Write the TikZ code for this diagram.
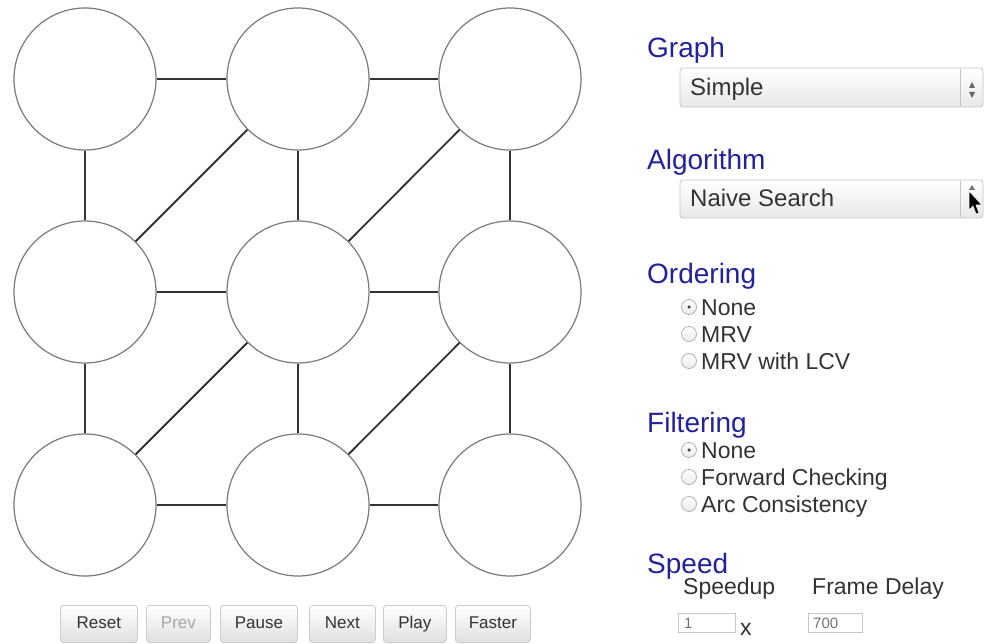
\documentclass[tikz,border=0pt]{standalone}
\usepackage{fontspec}
\setmainfont{Liberation Sans}
\definecolor{headblue}{HTML}{22229A}
\definecolor{bodytext}{HTML}{333333}
\definecolor{nodeline}{HTML}{7A7A7A}
\definecolor{edgeline}{HTML}{333333}
\definecolor{boxline}{HTML}{C4C4C4}
\begin{document}
\begin{tikzpicture}[x=1pt,y=-1pt,
  vertex/.style={circle,draw=nodeline,line width=1.2pt,fill=white,minimum size=142pt,inner sep=0pt},
  edge/.style={draw=edgeline,line width=2.6pt},
  heading/.style={anchor=base west,inner sep=0pt,text=headblue,font=\fontsize{28}{32}\selectfont},
  bodylabel/.style={anchor=base west,inner sep=0pt,text=bodytext,font=\fontsize{23}{27}\selectfont},
  selectbox/.style={draw=boxline,line width=0.8pt,rounded corners=3pt,top color=white,bottom color=black!9},
  radio/.style={circle,draw=black!30,line width=0.8pt,top color=white,bottom color=black!8,minimum size=15pt,inner sep=0pt},
  radiodot/.style={circle,fill=black!75,minimum size=3.5pt,inner sep=0pt},
  inputbox/.style={draw=black!22,line width=0.8pt,fill=white,anchor=north west,inner sep=0pt},
  inputtext/.style={anchor=base west,inner sep=0pt,text=black!55,font=\fontsize{15}{18}\selectfont},
  button/.style={draw=black!20,line width=0.8pt,rounded corners=3pt,top color=white,bottom color=black!12,
    minimum height=37pt,inner sep=0pt,text height=13pt,text depth=3pt,text=bodytext,font=\fontsize{17}{20}\selectfont,anchor=north west}
]
\useasboundingbox[fill=white] (0,0) rectangle (987,644);

% graph vertices
\node[vertex] (v00) at (85,79) {};
\node[vertex] (v01) at (298,79) {};
\node[vertex] (v02) at (510,79) {};
\node[vertex] (v10) at (85,292) {};
\node[vertex] (v11) at (298,292) {};
\node[vertex] (v12) at (510,292) {};
\node[vertex] (v20) at (85,505) {};
\node[vertex] (v21) at (298,505) {};
\node[vertex] (v22) at (510,505) {};

% edges
\draw[edge] (v00) -- (v01);
\draw[edge] (v01) -- (v02);
\draw[edge] (v10) -- (v11);
\draw[edge] (v11) -- (v12);
\draw[edge] (v20) -- (v21);
\draw[edge] (v21) -- (v22);
\draw[edge] (v00) -- (v10);
\draw[edge] (v10) -- (v20);
\draw[edge] (v01) -- (v11);
\draw[edge] (v11) -- (v21);
\draw[edge] (v02) -- (v12);
\draw[edge] (v12) -- (v22);
\draw[edge,line width=1.8pt] (v10) -- (v01);
\draw[edge,line width=1.8pt] (v11) -- (v02);
\draw[edge,line width=1.8pt] (v20) -- (v11);
\draw[edge,line width=1.8pt] (v21) -- (v12);

% buttons
\node[button,minimum width=77pt] (breset) at (60,605) {Reset};
\node[button,minimum width=64pt,text=black!35] (bprev) at (146,605) {Prev};
\node[button,minimum width=77pt] (bpause) at (220,605) {Pause};
\node[button,minimum width=66pt] (bnext) at (309,605) {Next};
\node[button,minimum width=63pt] (bplay) at (383,605) {Play};
\node[button,minimum width=75pt] (bfaster) at (455,605) {Faster};

% Graph
\node[heading] (hgraph) at (647,58) {Graph};
\draw[selectbox] (680,68) rectangle (983,107);
\draw[boxline,line width=0.6pt] (960,69) -- (960,106);
\node[bodylabel,font=\fontsize{24}{28}\selectfont] (tsimple) at (690,96) {Simple};
\fill[black!60] (969,88) -- (975,88) -- (972,82) -- cycle;
\fill[black!60] (969,92) -- (975,92) -- (972,98) -- cycle;

% Algorithm
\node[heading] (halgo) at (647,170) {Algorithm};
\draw[selectbox] (680,180) rectangle (983,218);
\draw[boxline,line width=0.6pt] (960,181) -- (960,217);
\node[bodylabel,font=\fontsize{24}{28}\selectfont] (tnaive) at (690,207) {Naive Search};
\fill[black!55] (969,190) -- (975,190) -- (972,185) -- cycle;
% mouse pointer
\filldraw[fill=black,draw=white,line width=0.6pt] (969,191) -- (969,210) -- (973,206) -- (976,214) -- (979,213) -- (976,205) -- (982,205) -- cycle;

% Ordering
\node[heading] (hord) at (647,283) {Ordering};
\node[radio] (ro1) at (689,307) {};
\node[radiodot] at (ro1) {};
\node[bodylabel] (to1) at (701,315) {None};
\node[radio] (ro2) at (689,334) {};
\node[bodylabel] (to2) at (701,342) {MRV};
\node[radio] (ro3) at (689,361) {};
\node[bodylabel] (to3) at (701,369) {MRV with LCV};

% Filtering
\node[heading] (hfil) at (647,432) {Filtering};
\node[radio] (rf1) at (689,450) {};
\node[radiodot] at (rf1) {};
\node[bodylabel] (tf1) at (701,458) {None};
\node[radio] (rf2) at (689,477) {};
\node[bodylabel] (tf2) at (701,485) {Forward Checking};
\node[radio] (rf3) at (689,504) {};
\node[bodylabel] (tf3) at (701,512) {Arc Consistency};

% Speed
\node[heading] (hspeed) at (647,573) {Speed};
\node[bodylabel] (tspeedup) at (683,594) {Speedup};
\node[bodylabel] (tframe) at (812,594) {Frame Delay};
\node[inputbox,minimum width=57pt,minimum height=19pt] (in1) at (678,613) {};
\node[inputtext] (t1) at (684,628) {1};
\node[bodylabel] (tx) at (740,635) {x};
\node[inputbox,minimum width=54pt,minimum height=19pt] (in2) at (808,613) {};
\node[inputtext] (t700) at (813,628) {700};
\end{tikzpicture}
\end{document}
